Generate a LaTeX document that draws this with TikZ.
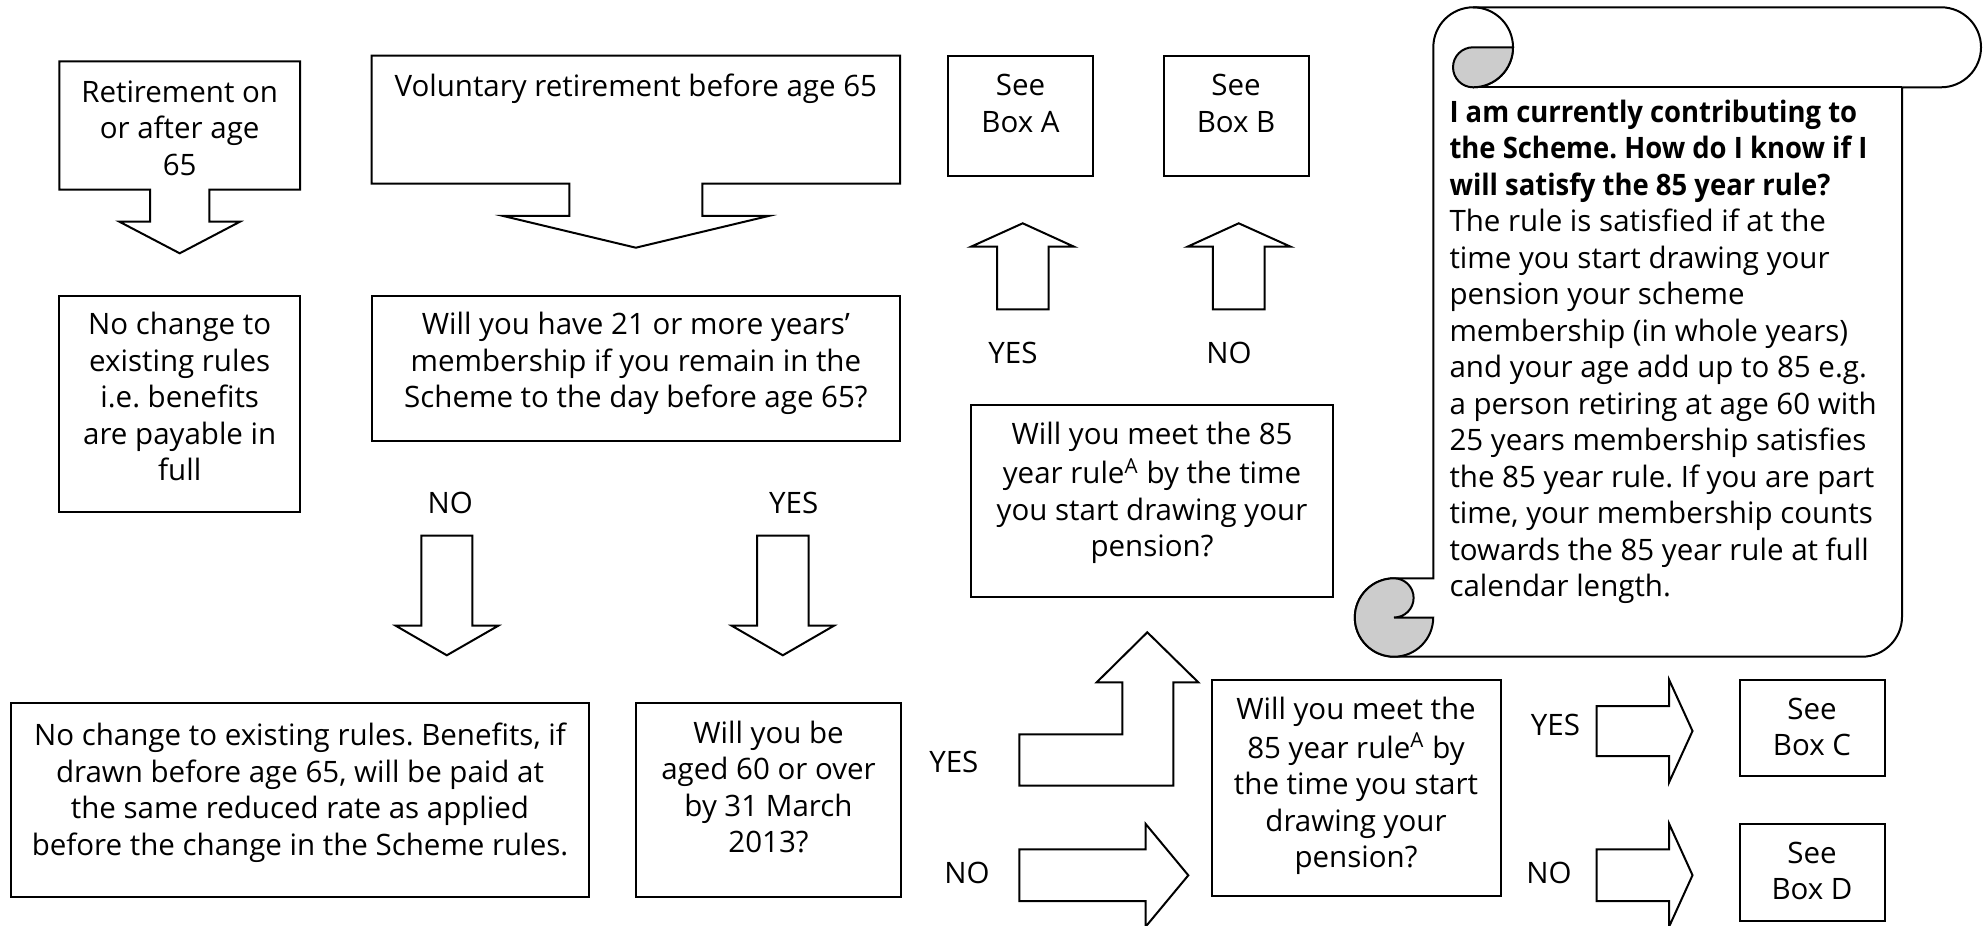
\documentclass[tikz,border=0pt]{standalone}
\usepackage{fontspec}
\setmainfont{Open Sans}[BoldFeatures={FakeStretch=0.93}]
\usetikzlibrary{fit}
\definecolor{curlgray}{RGB}{204,204,204}
\frenchspacing
\begin{document}
\begin{tikzpicture}[x=0.4pt,y=-0.4pt,
  ln/.style={line width=0.8pt, line join=miter},
  box/.style={ln, draw, fill=white, inner sep=0pt, rectangle},
  shp/.style={ln, draw, fill=white},
  txt/.style={font=\fontsize{11.8}{14.6}\selectfont\frenchspacing, align=center, inner sep=0pt, anchor=north},
  lbl/.style={font=\fontsize{11.8}{14.6}\selectfont, inner sep=0pt, anchor=center},
]
\useasboundingbox (0,0) rectangle (1983,925);
\fill[white] (0,0) rectangle (1983,925);

% ---- top left: box + arrow shapes
\path[shp] (59.4,61.3) -- (300,61.3) -- (300,189.7) -- (209.4,189.7) -- (209.4,221.7) -- (240,221.7)
  -- (179.7,253.3) -- (119.4,221.7) -- (150,221.7) -- (150,189.7) -- (59.4,189.7) -- cycle;
\path[shp] (371.7,55.7) -- (900,55.7) -- (900,183.7) -- (702.3,183.7) -- (702.3,216) -- (768.5,216)
  -- (635.8,247.7) -- (503.3,216) -- (569.4,216) -- (569.4,183.7) -- (371.7,183.7) -- cycle;
\node[txt] (tretire) at (179.7,76) {\strut Retirement on\\or after age\\65};
\node[txt] (tvol) at (635.8,70.5) {\strut Voluntary retirement before age 65};

% ---- boxes A, B
\node[box, fit={(948,55.7) (1093,176)}] (boxA) {};
\node[box, fit={(1163.5,55.7) (1308.6,176)}] (boxB) {};
\node[txt] (tA) at (boxA.center |- 0,69.7) {\strut See\\Box A};
\node[txt] (tB) at (boxB.center |- 0,69.7) {\strut See\\Box B};

% up arrows to A, B
\path[shp] (997,309.3) -- (997,246.7) -- (971,246.7) -- (1022.7,223.3) -- (1074,246.7) -- (1048.5,246.7) -- (1048.5,309.3) -- cycle;
\path[shp] (1212.8,309.3) -- (1212.8,246.7) -- (1187.5,246.7) -- (1238.7,223.3) -- (1290.6,246.7) -- (1264.7,246.7) -- (1264.7,309.3) -- cycle;
\node[lbl] (yesA) at (1013,352.8) {YES};
\node[lbl] (noB) at (1229,352.8) {NO};

% ---- middle row boxes
\node[box, fit={(59.4,296) (300,512.3)}] (boxnochange) {};
\node[txt] (tnochange) at (179.7,308.5) {\strut No change to\\existing rules\\i.e. benefits\\are payable in\\full};
\node[box, fit={(371.7,296) (900.2,440.7)}] (box21) {};
\node[txt] (t21) at (635.9,308.8) {\strut Will you have 21 or more years’\\membership if you remain in the\\Scheme to the day before age 65?};

\node[lbl] (noL) at (450.3,503) {NO};
\node[lbl] (yesL) at (793.7,503) {YES};

% down arrows
\path[shp] (421.3,535.7) -- (472.3,535.7) -- (472.3,625.7) -- (498.3,625.7) -- (446.8,655.3) -- (395.7,625.7) -- (421.3,625.7) -- cycle;
\path[shp] (757,535.7) -- (808.7,535.7) -- (808.7,625.7) -- (834,625.7) -- (782.8,655.3) -- (731.7,625.7) -- (757,625.7) -- cycle;

% ---- 85 year rule box (upper)
\node[box, fit={(971.3,405) (1332.7,597.3)}] (boxmeet1) {};
\node[txt] (tmeet1) at (1152,418.8) {\strut Will you meet the 85\\year rule\textsuperscript{A} by the time\\you start drawing your\\pension?};

% ---- scroll
\path[shp] (1473,7.3) -- (1941,7.3) arc[start angle=270,end angle=450,radius=40] -- (1902,87.3)
  -- (1902,616.7) arc[start angle=0,end angle=90,radius=40] -- (1394,656.7)
  arc[start angle=90,end angle=270,radius=39.2] -- (1433.3,578.3) -- (1433.3,47.3)
  arc[start angle=180,end angle=270,radius=40] -- cycle;
\draw[ln] (1902,87.3) -- (1473,87.3);
\draw[ln] (1473,7.3) arc[start angle=270,end angle=450,radius=40];
\filldraw[ln, fill=curlgray] (1473,47.3) -- (1513,47.3) arc[start angle=0,end angle=90,radius=40]
  arc[start angle=90,end angle=270,radius=20] -- cycle;
\filldraw[ln, fill=curlgray] (1394,578.3) arc[start angle=270,end angle=0,radius=39.2] -- (1394,617.5)
  arc[start angle=90,end angle=-90,radius=19.6] -- cycle;
\node[txt, anchor=north west, align=left] (tscroll) at (1449,96.3) {\strut\textbf{I am currently contributing to}\\
\textbf{the Scheme. How do I know if I}\\
\textbf{will satisfy the 85 year rule?}\\
The rule is satisfied if at the\\
time you start drawing your\\
pension your scheme\\
membership (in whole years)\\
and your age add up to 85 e.g.\\
a person retiring at age 60 with\\
25 years membership satisfies\\
the 85 year rule. If you are part\\
time, your membership counts\\
towards the 85 year rule at full\\
calendar length.};

% ---- bottom row
\node[box, fit={(11,703.3) (589,896.7)}] (boxreduced) {};
\node[txt] (treduced) at (300,719.8) {\strut No change to existing rules. Benefits, if\\drawn before age 65, will be paid at\\the same reduced rate as applied\\before the change in the Scheme rules.};
\node[box, fit={(635.6,703.3) (901.4,896.7)}] (box60) {};
\node[txt] (t60) at (768.5,717.3) {\strut Will you be\\aged 60 or over\\by 31 March\\2013?};

\node[lbl] (yes60) at (953.8,762) {YES};
\node[lbl] (no60) at (967,872.8) {NO};

% L-shaped arrow up (YES) and right arrow (NO)
\path[shp] (1019.3,785.7) -- (1173.3,785.7) -- (1173.3,682.3) -- (1198.3,682.3) -- (1147.3,632.3)
  -- (1096.7,682.3) -- (1122.3,682.3) -- (1122.3,734.3) -- (1019.3,734.3) -- cycle;
\path[shp] (1019.3,849.3) -- (1145.7,849.3) -- (1145.7,824) -- (1188.3,875.3) -- (1145.7,926.6)
  -- (1145.7,901) -- (1019.3,901) -- cycle;

\node[box, fit={(1211.5,680) (1501,896)}] (boxmeet2) {};
\node[txt] (tmeet2) at (1356,693.2) {\strut Will you meet the\\85 year rule\textsuperscript{A} by\\the time you start\\drawing your\\pension?};

\node[lbl] (yesC) at (1555.5,725) {YES};
\node[lbl] (noD) at (1549,872.7) {NO};

\path[shp] (1596.7,706) -- (1669.2,706) -- (1669.2,680) -- (1692.5,731) -- (1669.2,782) -- (1669.2,756) -- (1596.7,756) -- cycle;
\path[shp] (1596.7,849.3) -- (1669.2,849.3) -- (1669.2,824) -- (1692.5,875.2) -- (1669.2,926.4) -- (1669.2,901) -- (1596.7,901) -- cycle;

\node[box, fit={(1739.7,680) (1884.8,776)}] (boxC) {};
\node[box, fit={(1739.7,824) (1884.8,920.7)}] (boxD) {};
\node[txt] (tC) at (1812,693.2) {\strut See\\Box C};
\node[txt] (tD) at (1812,837.4) {\strut See\\Box D};
\end{tikzpicture}
\end{document}
